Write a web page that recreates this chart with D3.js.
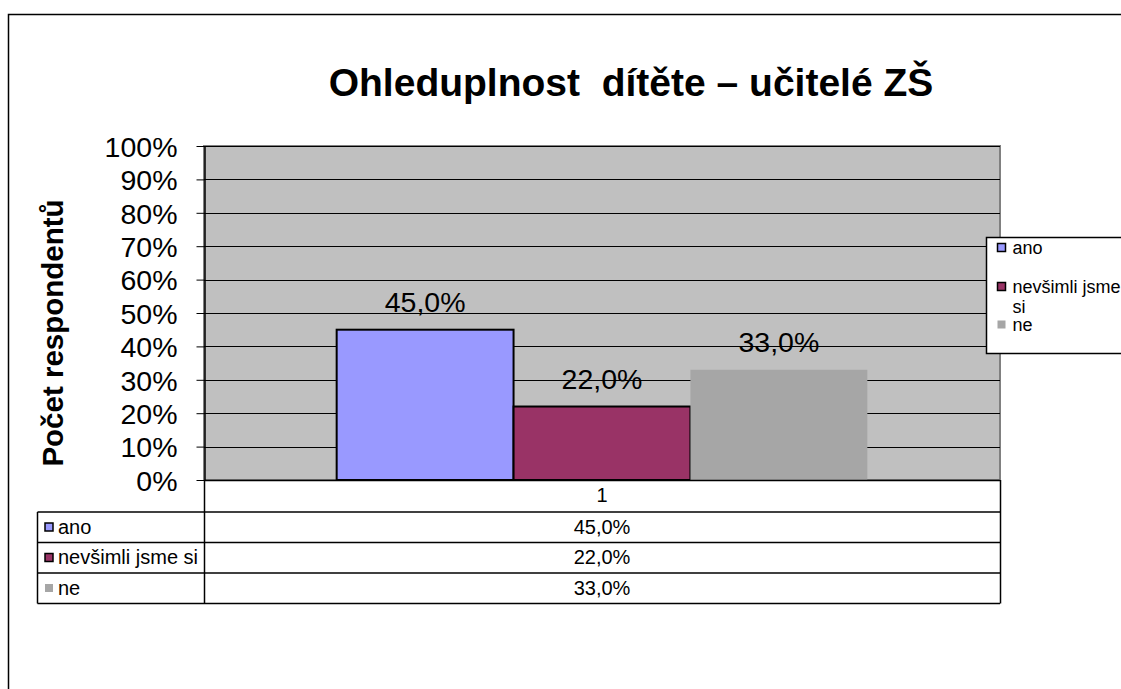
<!DOCTYPE html>
<html>
<head>
<meta charset="utf-8">
<script src="https://cdn.jsdelivr.net/npm/d3@7.9.0/dist/d3.min.js"></script>
<style>
  body { margin: 0; background: #fff; }
  svg { display: block; font-family: "Liberation Sans", Arial, sans-serif; }
</style>
</head>
<body>
<svg id="chart" width="1121" height="689"></svg>
<script>
const categories = ["1"];
const seriesNames = ["ano", "nevšimli jsme si", "ne"];
const seriesValues = [0.45, 0.22, 0.33];
const seriesColors = ["#9999ff", "#993366", "#a6a6a6"];
const legendLines = [["ano"], ["nevšimli jsme", "si"], ["ne"]];
const yTicks = [0, 0.1, 0.2, 0.3, 0.4, 0.5, 0.6, 0.7, 0.8, 0.9, 1];

const title = "Ohleduplnost  dítěte – učitelé ZŠ";
const yTitle = "Počet respondentů";

const svg = d3.select('#chart');
const plot = { left: 204, right: 1000, top: 146, bottom: 480 };

const cz = d3.formatLocale({ decimal: ",", thousands: " ", grouping: [3], currency: ["", " Kč"] });
const pct1 = cz.format(".1%");
const pct0 = cz.format(".0%");

let y = d3.scaleLinear().domain([0, 1]).range([plot.bottom, plot.top]);
let x0 = d3.scaleBand().domain(categories).range([plot.left, plot.right]).paddingOuter(0.25);
let x1 = d3.scaleBand().domain(seriesNames).range([0, x0.bandwidth()]);

// outer frame
svg.append('path')
    .attr('d', 'M8.5,689 V14.5 H1121')
    .attr('fill', 'none').attr('stroke', '#000').attr('stroke-width', 1.5);

// title
svg.append('text')
    .attr('x', 631).attr('y', 96)
    .attr('text-anchor', 'middle')
    .attr('font-size', 39).attr('font-weight', 'bold')
    .style('white-space', 'pre')
    .text(title);

// plot area
svg.append('rect')
    .attr('x', plot.left).attr('y', plot.top)
    .attr('width', plot.right - plot.left).attr('height', plot.bottom - plot.top)
    .attr('fill', '#c0c0c0').attr('stroke', '#808080').attr('stroke-width', 2);

svg.append('g')
    .selectAll('line')
    .data(yTicks)
    .join('line')
    .attr('x1', plot.left).attr('x2', plot.right)
    .attr('y1', d => Math.round(y(d)) + 0.5).attr('y2', d => Math.round(y(d)) + 0.5)
    .attr('stroke', '#000').attr('stroke-width', 1);

// y axis
let yAxis = svg.append('g')
    .attr('transform', `translate(${plot.left + 0.5},0)`)
    .call(d3.axisLeft(y).tickValues(yTicks).tickFormat(pct0).tickSize(8).tickSizeOuter(0).tickPadding(19));
yAxis.select('.domain').attr('stroke', '#000').attr('stroke-width', 1.5);
yAxis.selectAll('.tick line').attr('stroke', '#000');
yAxis.selectAll('text')
    .attr('font-size', 28.5).attr('fill', '#000')
    .attr('font-family', '"Liberation Sans", Arial, sans-serif')
    .attr('dy', '0.36em');

svg.append('text')
    .attr('transform', `translate(63,333) rotate(-90)`)
    .attr('text-anchor', 'middle')
    .attr('font-size', 29.5).attr('font-weight', 'bold')
    .text(yTitle);

// bars
let groups = svg.append('g')
    .selectAll('g')
    .data(categories)
    .join('g')
    .attr('transform', d => `translate(${x0(d)},0)`);

groups.selectAll('rect')
    .data(seriesNames.map((s, i) => ({ name: s, value: seriesValues[i], color: seriesColors[i], i })))
    .join('rect')
    .attr('x', d => x1(d.name))
    .attr('y', d => y(d.value))
    .attr('width', x1.bandwidth())
    .attr('height', d => plot.bottom - y(d.value))
    .attr('fill', d => d.color)
    .attr('stroke', d => d.i < 2 ? '#000' : 'none')
    .attr('stroke-width', 2);

groups.selectAll('text')
    .data(seriesNames.map((s, i) => ({ name: s, value: seriesValues[i] })))
    .join('text')
    .attr('x', d => x1(d.name) + x1.bandwidth() / 2)
    .attr('y', d => y(d.value) - 18)
    .attr('text-anchor', 'middle')
    .attr('font-size', 28.5)
    .text(d => pct1(d.value));

// x axis line
svg.append('line')
    .attr('x1', plot.left).attr('x2', plot.right)
    .attr('y1', plot.bottom + 0.5).attr('y2', plot.bottom + 0.5)
    .attr('stroke', '#000').attr('stroke-width', 1.5);

// data table
const tbl = { left: 37.5, top: 512, rowH: 30.5 };
const tableBottom = tbl.top + seriesNames.length * tbl.rowH;

svg.selectAll('.cat-label')
    .data(categories)
    .join('text')
    .attr('class', 'cat-label')
    .attr('x', d => x0(d) + x0.bandwidth() / 2)
    .attr('y', 502)
    .attr('text-anchor', 'middle')
    .attr('font-size', 20)
    .text(d => d);

let hLines = d3.range(seriesNames.length + 1).map(i => tbl.top + i * tbl.rowH);
svg.append('g').selectAll('line')
    .data(hLines)
    .join('line')
    .attr('x1', tbl.left).attr('x2', plot.right)
    .attr('y1', d => d).attr('y2', d => d)
    .attr('stroke', '#000').attr('stroke-width', 1.5);

svg.append('line')
    .attr('x1', tbl.left).attr('x2', tbl.left)
    .attr('y1', tbl.top).attr('y2', tableBottom)
    .attr('stroke', '#000').attr('stroke-width', 1.5);
[plot.left, plot.right].forEach(xv => {
    svg.append('line')
        .attr('x1', xv + 0.5).attr('x2', xv + 0.5)
        .attr('y1', plot.bottom).attr('y2', tableBottom)
        .attr('stroke', '#000').attr('stroke-width', 1.5);
});

let rows = svg.append('g').selectAll('g')
    .data(seriesNames.map((s, i) => ({ name: s, value: seriesValues[i], color: seriesColors[i], i })))
    .join('g')
    .attr('transform', d => `translate(0,${tbl.top + d.i * tbl.rowH})`);

rows.append('rect')
    .attr('x', 45).attr('y', 11)
    .attr('width', 8).attr('height', 8)
    .attr('fill', d => d.color)
    .attr('stroke', d => d.i < 2 ? '#000' : 'none')
    .attr('stroke-width', 1.5);
rows.append('text')
    .attr('x', 58).attr('y', 21.5)
    .attr('font-size', 20)
    .text(d => d.name);
rows.append('text')
    .attr('x', x0(categories[0]) + x0.bandwidth() / 2)
    .attr('y', 21.5)
    .attr('text-anchor', 'middle')
    .attr('font-size', 20)
    .text(d => pct1(d.value));

// legend
let legend = svg.append('g').attr('transform', 'translate(986.5,237.5)');
legend.append('rect')
    .attr('width', 200).attr('height', 116)
    .attr('fill', '#fff').attr('stroke', '#000').attr('stroke-width', 1.5);

const legendY = [16, 55, 93];
let items = legend.selectAll('.item')
    .data(legendLines.map((lines, i) => ({ lines, color: seriesColors[i], i })))
    .join('g')
    .attr('class', 'item')
    .attr('transform', d => `translate(0,${legendY[d.i]})`);
items.append('rect')
    .attr('x', 11).attr('y', -10)
    .attr('width', 8).attr('height', 8)
    .attr('fill', d => d.color)
    .attr('stroke', d => d.i < 2 ? '#000' : 'none')
    .attr('stroke-width', 1.5);
items.append('text')
    .attr('font-size', 18)
    .selectAll('tspan')
    .data(d => d.lines)
    .join('tspan')
    .attr('x', 26)
    .attr('dy', (d, j) => j === 0 ? 0 : 20)
    .text(d => d);
</script>
</body>
</html>
